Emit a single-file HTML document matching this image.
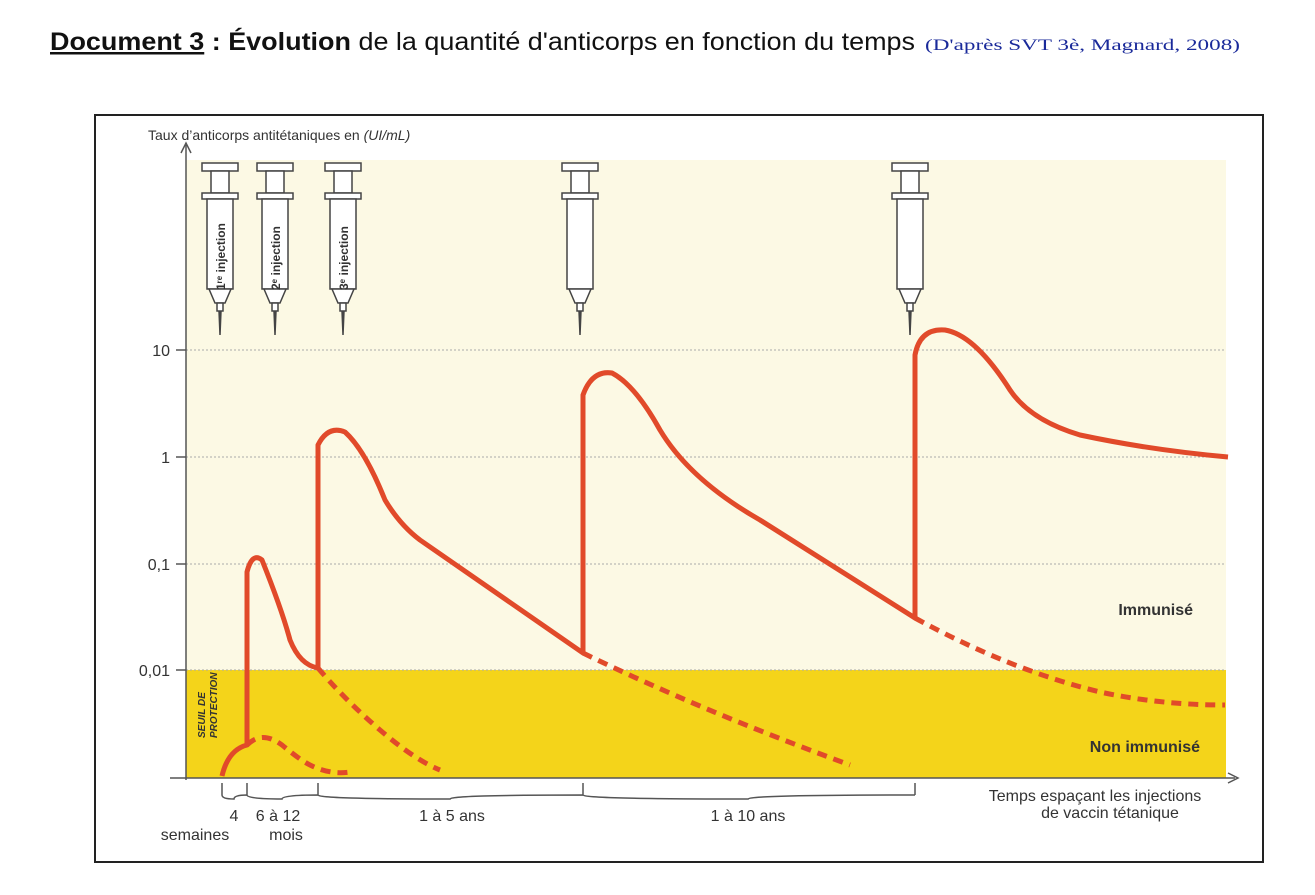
<!DOCTYPE html><html><head><meta charset="utf-8"><style>
body{margin:0;background:#fff;width:1315px;height:890px;overflow:hidden;font-family:"Liberation Sans",sans-serif}
</style></head><body>
<svg width="1315" height="890" xmlns="http://www.w3.org/2000/svg" font-family="Liberation Sans, sans-serif">
<text x="50" y="50" font-size="25" fill="#111" textLength="865" lengthAdjust="spacingAndGlyphs"><tspan font-weight="bold" text-decoration="underline">Document 3</tspan><tspan font-weight="bold"> : Évolution</tspan> de la quantité d'anticorps en fonction du temps</text>
<text x="925" y="50" font-family="Liberation Serif, serif" font-size="16" fill="#1a2a9a" textLength="315" lengthAdjust="spacingAndGlyphs">(D'après SVT 3è, Magnard, 2008)</text>
<rect x="95" y="115" width="1168" height="747" fill="#fff" stroke="#222" stroke-width="2"/>
<rect x="186" y="160" width="1040" height="510" fill="#fcf9e4"/>
<rect x="186" y="670" width="1040" height="108" fill="#f4d41a"/>
<g stroke="#aaa" stroke-dasharray="2,2" stroke-width="1">
<line x1="186" y1="350" x2="1226" y2="350"/><line x1="186" y1="457" x2="1226" y2="457"/><line x1="186" y1="564" x2="1226" y2="564"/><line x1="186" y1="670" x2="1226" y2="670"/></g>
<g stroke="#555" stroke-width="1.5" fill="none">
<line x1="186" y1="780" x2="186" y2="145"/><path d="M181 153 L186 143 L191 153"/>
<line x1="170" y1="778" x2="1235" y2="778"/><path d="M1228 773 L1238 778 L1228 783"/>
<line x1="176" y1="350" x2="186" y2="350"/><line x1="176" y1="457" x2="186" y2="457"/><line x1="176" y1="564" x2="186" y2="564"/><line x1="176" y1="670" x2="186" y2="670"/>
<path d="M222 783 v12 M247 783 v12 M318 783 v12 M583 783 v12 M915 783 v12"/>
<path d="M222 795 q0 4 12 4 q0-4 13-4 M247 795 q0 4 35 4 q0-4 36-4 M318 795 q0 4 132 4 q0-4 133-4 M583 795 q0 4 165 4 q0-4 167-4"/>
</g>
<g font-size="16" fill="#333" text-anchor="end"><text x="170" y="356">10</text><text x="170" y="463">1</text><text x="170" y="570">0,1</text><text x="170" y="676">0,01</text></g>
<text x="148" y="140" font-size="14" fill="#333">Taux d’anticorps antitétaniques en <tspan font-style="italic">(UI/mL)</tspan></text>
<text x="1193" y="615" font-size="16" font-weight="bold" fill="#333" text-anchor="end">Immunisé</text>
<text x="1200" y="752" font-size="16" font-weight="bold" fill="#333" text-anchor="end">Non immunisé</text>
<text transform="translate(205,738) rotate(-90)" font-size="10" font-weight="bold" font-style="italic" fill="#333">SEUIL DE</text>
<text transform="translate(217,738) rotate(-90)" font-size="10" font-weight="bold" font-style="italic" fill="#333">PROTECTION</text>
<g font-size="16" fill="#333" text-anchor="middle">
<text x="234" y="821">4</text><text x="278" y="821">6 à 12</text><text x="195" y="840">semaines</text><text x="286" y="840">mois</text>
<text x="452" y="821">1 à 5 ans</text><text x="748" y="821">1 à 10 ans</text>
<text x="1095" y="801">Temps espaçant les injections</text><text x="1110" y="818">de vaccin tétanique</text></g>
<defs><g id="s" stroke="#444" stroke-width="1.5" fill="#fff">
<rect x="-18" y="0" width="36" height="8"/><rect x="-9" y="8" width="18" height="22"/><rect x="-18" y="30" width="36" height="6"/>
<rect x="-13" y="36" width="26" height="90"/><path d="M-11 126 L-5 140 L5 140 L11 126Z"/><rect x="-3" y="140" width="6" height="8"/><path d="M-1 148 L0 172 L1 148" fill="#444"/></g></defs>
<use href="#s" x="220" y="163"/><use href="#s" x="275" y="163"/><use href="#s" x="343" y="163"/><use href="#s" x="580" y="163"/><use href="#s" x="910" y="163"/>
<g font-size="12" font-weight="bold" fill="#333"><text transform="translate(225,290) rotate(-90)">1ʳᵉ injection</text><text transform="translate(280,290) rotate(-90)">2ᵉ injection</text><text transform="translate(348,290) rotate(-90)">3ᵉ injection</text></g>
<g fill="none" stroke="#e14a2a" stroke-width="5" stroke-linejoin="round">
<path d="M222 776 Q228 750 247 745 V572 Q252 552 262 560 Q282 610 290 640 Q300 665 318 668 V445 Q328 425 345 432 Q365 450 385 500 Q400 525 420 540 L583 653 V395 Q592 370 612 373 Q635 385 660 430 Q690 480 760 520 L915 618 V355 Q920 328 945 330 Q975 335 1010 390 Q1030 420 1080 435 Q1150 450 1228 457"/>
<g stroke-dasharray="10,7"><path d="M247 745 Q262 730 282 745 Q300 760 310 765 Q330 775 350 772"/><path d="M318 668 Q345 700 380 730 Q415 760 440 770"/><path d="M583 653 Q700 710 850 765"/><path d="M915 618 Q1010 670 1100 692 Q1160 705 1225 705"/></g></g>
</svg></body></html>
